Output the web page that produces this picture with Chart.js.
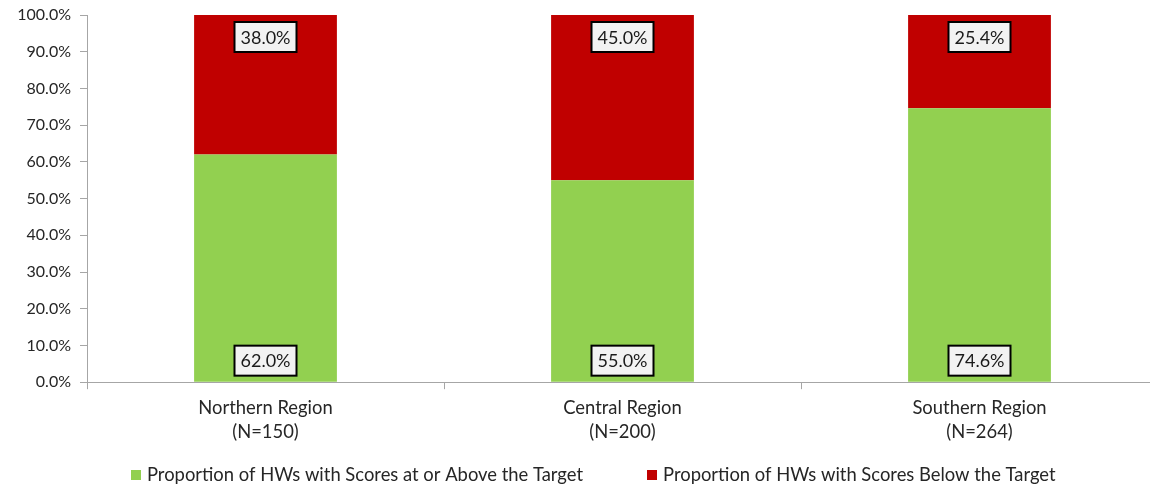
<!DOCTYPE html>
<html><head><meta charset="utf-8">
<script src="https://cdn.jsdelivr.net/npm/chart.js@4/dist/chart.umd.min.js"></script>
<style>html,body{margin:0;padding:0;background:#fff;overflow:hidden}#wrap{position:absolute;left:0;top:0;width:1158px;height:487px}</style>
</head><body><div id="wrap"><canvas id="c"></canvas></div>
<script>
const categories = [["Northern Region","(N=150)"],["Central Region","(N=200)"],["Southern Region","(N=264)"]];
const aboveTarget = [0.620, 0.550, 0.746];
const belowTarget = [0.380, 0.450, 0.254];
const seriesNames = ["Proportion of HWs with Scores at or Above the Target","Proportion of HWs with Scores Below the Target"];
const seriesColors = ['#92d050','#c00000'];
const FONT = "Lato, 'Open Sans', sans-serif";

const labelPlugin = {
  id:'boxLabels',
  afterDatasetsDraw(chart){
    const ctx = chart.ctx;
    chart.data.datasets.forEach((ds,di)=>{
      const meta = chart.getDatasetMeta(di);
      meta.data.forEach((bar,i)=>{
        const txt = (ds.data[i]*100).toFixed(1)+'%';
        ctx.save();
        ctx.font = "18px "+FONT;
        const w = 62, h = 30;
        let cy = di===0 ? bar.base - 21 : bar.y + 22;
        const x = bar.x - w/2, y = cy - h/2;
        ctx.fillStyle = '#f2f2f2';
        ctx.fillRect(x,y,w,h);
        ctx.lineWidth = 2; ctx.strokeStyle = '#000';
        ctx.strokeRect(x,y,w,h);
        ctx.fillStyle = '#1a1a1a';
        ctx.textAlign='center'; ctx.textBaseline='middle';
        ctx.fillText(txt, bar.x, cy+1);
        ctx.restore();
      });
    });
  }
};

const legendPlugin = {
  id:'customLegend',
  afterDraw(chart){
    const ctx = chart.ctx;
    ctx.save();
    ctx.font = "18.4px "+FONT;
    ctx.textBaseline='middle'; ctx.textAlign='left';
    let x = 131; const cy = 475;
    chart.data.datasets.forEach((ds,di)=>{
      ctx.fillStyle = ds.backgroundColor;
      ctx.fillRect(x, cy-5, 10, 10);
      ctx.fillStyle = '#262626';
      ctx.fillText(ds.label, x+16, cy);
      x += 16 + ctx.measureText(ds.label).width + 64;
    });
    ctx.restore();
  }
};

new Chart(document.getElementById('c'), {
  type:'bar',
  data:{labels:categories, datasets:[
    {label:seriesNames[0], data:aboveTarget, backgroundColor:seriesColors[0], barPercentage:0.4, categoryPercentage:1},
    {label:seriesNames[1], data:belowTarget, backgroundColor:seriesColors[1], barPercentage:0.4, categoryPercentage:1}
  ]},
  options:{
    responsive:true, maintainAspectRatio:false, animation:false,
    layout:{padding:{top:15,left:0,right:0,bottom:36}},
    plugins:{
      tooltip:{enabled:false},
      legend:{display:false}
    },
    scales:{
      x:{stacked:true,
        grid:{display:true, drawOnChartArea:false, offset:true, tickLength:7, color:'#a6a6a6'},
        border:{color:'#a6a6a6'},
        ticks:{color:'#262626', font:{family:FONT,size:18.4,lineHeight:1.3}, padding:7}
      },
      y:{stacked:true, min:0, max:1,
        afterFit(s){s.width=87; s.paddingTop=0; s.paddingBottom=0;},
        grid:{display:true, drawOnChartArea:false, tickLength:7, color:'#a6a6a6'},
        border:{color:'#a6a6a6'},
        ticks:{stepSize:0.1, color:'#262626', font:{family:FONT,size:16}, padding:9,
          callback:v=>(v*100).toFixed(1)+'%'}
      }
    }
  },
  plugins:[labelPlugin, legendPlugin]
});
</script></body></html>
